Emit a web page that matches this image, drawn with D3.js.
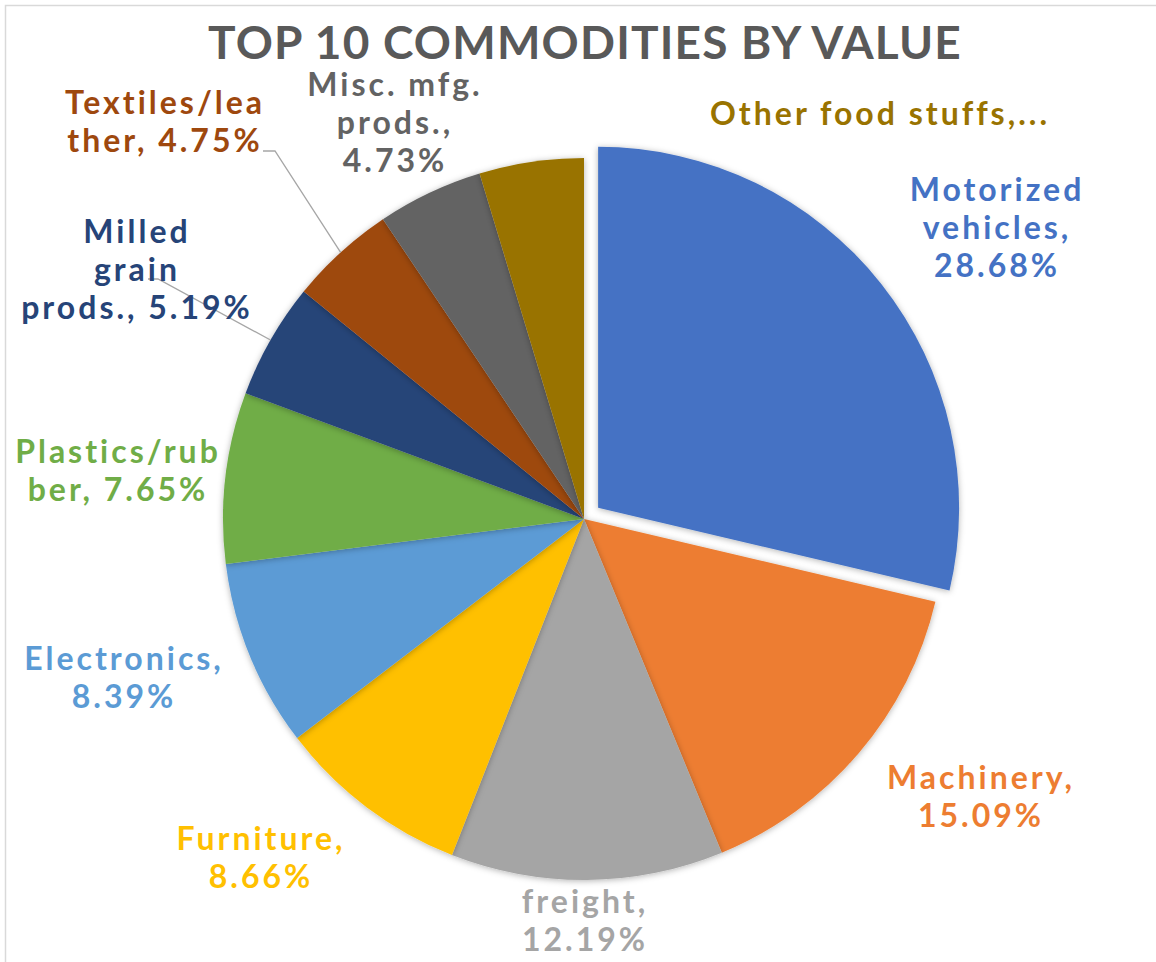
<!DOCTYPE html>
<html>
<head>
<meta charset="utf-8">
<script src="https://cdn.jsdelivr.net/npm/d3@7"></script>
<style>
  body { margin: 0; background: #fff; }
  text { font-family: Lato, "Noto Sans", sans-serif; font-weight: bold; }
</style>
</head>
<body>
<div id="chart"></div>
<script>
// data
var categories = ["Motorized vehicles", "Machinery", "Mixed freight", "Furniture", "Electronics",
    "Plastics/rubber", "Milled grain prods.", "Textiles/leather", "Misc. mfg. prods.", "Other food stuffs"];
var shares = [28.68, 15.09, 12.19, 8.66, 8.39, 7.65, 5.19, 4.75, 4.73, 4.67];
var labelLines = [
    ["Motorized", "vehicles,", "28.68%"],
    ["Machinery,", "15.09%"],
    ["freight,", "12.19%"],
    ["Furniture,", "8.66%"],
    ["Electronics,", "8.39%"],
    ["Plastics/rub", "ber, 7.65%"],
    ["Milled", "grain", "prods., 5.19%"],
    ["Textiles/lea", "ther, 4.75%"],
    ["Misc. mfg.", "prods.,", "4.73%"],
    ["Other food stuffs,..."]
];
var colors = ["#4472C4", "#ED7D31", "#A5A5A5", "#FFC000", "#5B9BD5",
    "#70AD47", "#264478", "#9E480E", "#636363", "#997300"];
var title = "TOP 10 COMMODITIES BY VALUE";

// layout (label block centres, as placed in the original)
var labelPos = [[997, 227], [981, 796], [585, 920], [261, 857], [124, 677],
    [118, 470], [137, 269], [165, 121], [395, 122], [880, 113]];
var leaders = {6: [[148, 279], [158, 279]], 7: [[263, 151], [275, 151]]};

var w = 1156, h = 962;
var cx = 584, cy = 519, r = 361, explode = 18;
var lh = 38, fs = 32;

var svg = d3.select("#chart").append("svg").attr("width", w).attr("height", h);

var defs = svg.append("defs");
var f = defs.append("filter").attr("id", "shadow")
    .attr("x", "-20%").attr("y", "-20%").attr("width", "140%").attr("height", "140%");
f.append("feDropShadow").attr("dx", 0).attr("dy", 1).attr("stdDeviation", 3)
    .attr("flood-color", "#000").attr("flood-opacity", 0.3);

// chart area border
svg.append("rect").attr("x", 5.5).attr("y", 5.5).attr("width", w + 10).attr("height", h + 10)
    .attr("fill", "none").attr("stroke", "#d9d9d9").attr("stroke-width", 1.5);

svg.append("text").attr("x", 585).attr("y", 59)
    .attr("text-anchor", "middle").attr("fill", "#595959")
    .attr("font-size", 46).attr("letter-spacing", 1.2)
    .text(title);

var pie = d3.pie().sort(null).value(function(d){ return d; });
var arcs = pie(shares);
var arc = d3.arc().innerRadius(0).outerRadius(r);

var g = svg.append("g").attr("transform", "translate(" + cx + "," + cy + ")");

g.selectAll("path.slice")
    .data(arcs)
    .enter().append("path")
    .attr("class", "slice")
    .attr("fill", function(d, i){ return colors[i]; })
    .attr("filter", "url(#shadow)")
    .attr("transform", function(d, i){
        if (i !== 0) return null;
        var a = (d.startAngle + d.endAngle) / 2;
        return "translate(" + (Math.sin(a) * explode) + "," + (-Math.cos(a) * explode) + ")";
    })
    .attr("d", arc);

// leader lines
Object.keys(leaders).forEach(function(k){
    var d = arcs[k];
    var a = (d.startAngle + d.endAngle) / 2;
    var pts = leaders[k].concat([[cx + Math.sin(a) * r, cy - Math.cos(a) * r]]);
    svg.append("path")
        .attr("d", d3.line()(pts))
        .attr("fill", "none").attr("stroke", "#a6a6a6").attr("stroke-width", 1.3);
});

// data labels
var lab = svg.selectAll("text.lab")
    .data(arcs)
    .enter().append("text")
    .attr("class", "lab")
    .attr("text-anchor", "middle")
    .attr("font-size", fs)
    .attr("letter-spacing", 3)
    .attr("fill", function(d, i){ return colors[i]; });

lab.each(function(d, i){
    var lines = labelLines[i];
    var y0 = labelPos[i][1] - (lines.length - 1) * lh / 2 + fs * 0.36;
    d3.select(this).selectAll("tspan")
        .data(lines)
        .enter().append("tspan")
        .attr("x", labelPos[i][0])
        .attr("y", function(t, j){ return y0 + j * lh; })
        .text(function(t){ return t; });
});
</script>
</body>
</html>
